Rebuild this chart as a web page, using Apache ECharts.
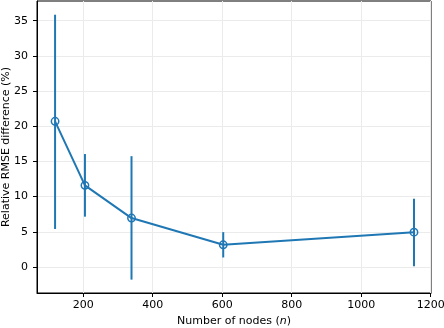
<!DOCTYPE html>
<html>
<head>
<meta charset="utf-8">
<script src="https://cdn.jsdelivr.net/npm/echarts@6/dist/echarts.min.js"></script>
<style>
  html, body { margin: 0; padding: 0; background: #fff; }
  #main { width: 444px; height: 328px; }
</style>
</head>
<body>
<div id="main"></div>
<script>
// node counts and relative RMSE difference (%)
var nodes = [119, 205, 339, 603, 1152];
var rmseDiff = [20.7, 11.6, 6.95, 3.15, 4.95];
var errLow = [5.4, 7.15, -1.8, 1.35, 0.1];
var errHigh = [35.85, 16.05, 15.75, 4.95, 9.7];
var xTicks = [200, 400, 600, 800, 1000, 1200];
var yTicks = [0, 5, 10, 15, 20, 25, 30, 35];

var blue = "#1f77b4";
var font = "DejaVu Sans";
var fs = 11;

var lineData = nodes.map(function (n, i) { return [n, rmseDiff[i]]; });
var errData = nodes.map(function (n, i) { return [n, errLow[i], errHigh[i], rmseDiff[i]]; });

var myChart = echarts.init(document.getElementById("main"), null, { renderer: "canvas" });

var option = {
  animation: false,
  backgroundColor: "#fff",
  textStyle: { fontFamily: font },
  grid: {
    left: 37,
    right: 13,
    top: 1,
    bottom: 35,
    containLabel: false,
    outerBoundsMode: "none",
    show: true,
    borderColor: "#000",
    borderWidth: 1,
    backgroundColor: "transparent",
  },
  xAxis: {
    type: "value",
    min: 67,
    max: 1201,
    name: "Number of nodes ({i|n})",
    nameLocation: "middle",
    nameGap: 23,
    nameMoveOverlap: false,
    nameTextStyle: {
      fontFamily: font,
      fontSize: fs,
      color: "#000",
      rich: { i: { fontStyle: "italic", fontFamily: font, fontSize: fs, color: "#000" } },
    },
    axisLine: { show: true, onZero: false, lineStyle: { color: "#000", width: 1 } },
    axisTick: { show: true, length: 4, customValues: xTicks, lineStyle: { color: "#000" } },
    axisLabel: {
      fontFamily: font,
      fontSize: fs,
      color: "#000",
      margin: 7,
      customValues: xTicks,
      formatter: function (v) { return String(v); },
    },
    splitLine: { show: true, customValues: xTicks, lineStyle: { color: "#ebebeb", width: 1 } },
  },
  yAxis: {
    type: "value",
    min: -3.7,
    max: 37.8,
    name: "Relative RMSE difference (%)",
    nameLocation: "middle",
    nameGap: 25,
    nameMoveOverlap: false,
    nameTextStyle: { fontFamily: font, fontSize: fs, color: "#000" },
    axisLine: { show: true, onZero: false, lineStyle: { color: "#000", width: 1 } },
    axisTick: { show: true, length: 4, customValues: yTicks, lineStyle: { color: "#000" } },
    axisLabel: {
      fontFamily: font,
      fontSize: fs,
      color: "#000",
      margin: 9,
      customValues: yTicks,
      formatter: function (v) { return String(v); },
    },
    splitLine: { show: true, customValues: yTicks, lineStyle: { color: "#ebebeb", width: 1 } },
  },
  series: [
    {
      // error bars
      type: "custom",
      data: errData,
      z: 2,
      renderItem: function (params, api) {
        var lo = api.coord([api.value(0), api.value(1)]);
        var hi = api.coord([api.value(0), api.value(2)]);
        return {
          type: "line",
          shape: { x1: lo[0], y1: lo[1], x2: hi[0], y2: hi[1] },
          style: { stroke: blue, lineWidth: 2 },
        };
      },
    },
    {
      type: "line",
      data: lineData,
      symbol: "none",
      z: 3,
      lineStyle: { color: blue, width: 2 },
    },
    {
      // open circle markers
      type: "custom",
      data: lineData,
      z: 4,
      renderItem: function (params, api) {
        var p = api.coord([api.value(0), api.value(1)]);
        return {
          type: "circle",
          shape: { cx: p[0], cy: p[1], r: 3.7 },
          style: { fill: "none", stroke: blue, lineWidth: 1.5 },
        };
      },
    },
  ],
};

myChart.setOption(option);
</script>
</body>
</html>
